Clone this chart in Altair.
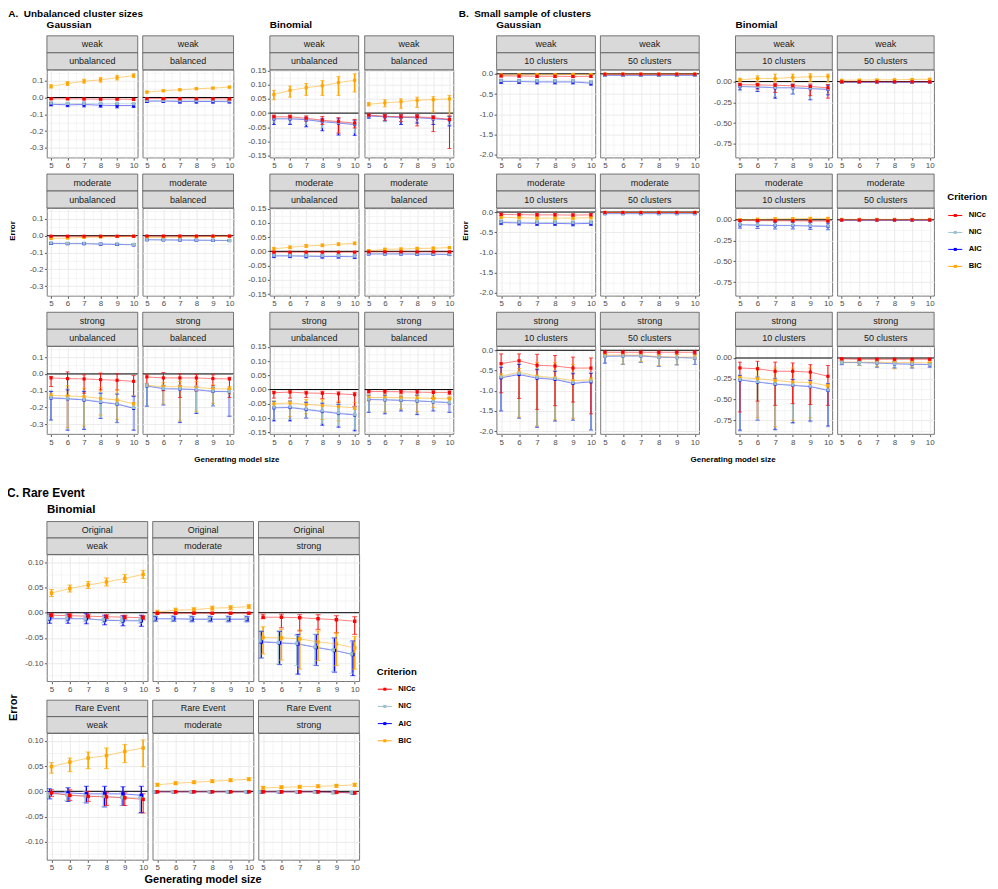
import altair as alt
import numpy as np
import pandas as pd

FONT = "Liberation Sans"
SIZES = [5, 6, 7, 8, 9, 10]
CRITERIA = ["NICc", "NIC", "AIC", "BIC"]
COLORS = ["#FF0000", "#9AC0CD", "#0000FF", "#FFA500"]
DRAW_ORDER = ["AIC", "BIC", "NIC", "NICc"]

# ---------------- Panel A: Gaussian (mean, lo, hi) or (mean, half-width) ----------------
A_G_weak_unb = {
    "NICc": ([-0.008, -0.008, -0.009, -0.010, -0.010, -0.011], 0.005),
    "NIC": ([-0.033, -0.036, -0.036, -0.035, -0.036, -0.038], 0.008),
    "AIC": ([-0.040, -0.044, -0.042, -0.046, -0.048, -0.048], [-0.050, -0.055, -0.056, -0.058, -0.062, -0.060], [-0.030, -0.033, -0.028, -0.034, -0.034, -0.036]),
    "BIC": ([0.066, 0.083, 0.097, 0.105, 0.118, 0.130], [0.056, 0.071, 0.085, 0.091, 0.104, 0.119], [0.076, 0.095, 0.109, 0.119, 0.132, 0.141]),
}
A_G_weak_bal = {
    "NICc": ([-0.007, -0.007, -0.008, -0.008, -0.008, -0.009], 0.004),
    "NIC": ([-0.018, -0.018, -0.019, -0.019, -0.019, -0.020], 0.006),
    "AIC": ([-0.022, -0.021, -0.024, -0.024, -0.024, -0.025], [-0.030, -0.030, -0.034, -0.034, -0.034, -0.033], [-0.014, -0.012, -0.014, -0.014, -0.014, -0.017]),
    "BIC": ([0.032, 0.040, 0.046, 0.052, 0.056, 0.062], 0.005),
}
A_G_mod_unb = {
    "NICc": ([-0.003, -0.003, -0.003, -0.003, -0.003, -0.003], 0.003),
    "NIC": ([-0.044, -0.045, -0.045, -0.048, -0.050, -0.052], 0.005),
    "AIC": ([-0.046, -0.047, -0.047, -0.050, -0.052, -0.054], 0.006),
    "BIC": ([-0.016, -0.014, -0.010, -0.008, -0.005, -0.003], 0.004),
}
A_G_mod_bal = {
    "NICc": ([-0.002, -0.002, -0.002, -0.002, -0.002, -0.002], 0.003),
    "NIC": ([-0.023, -0.024, -0.025, -0.026, -0.027, -0.028], 0.004),
    "AIC": ([-0.024, -0.025, -0.026, -0.027, -0.028, -0.029], 0.004),
    "BIC": ([-0.012, -0.010, -0.008, -0.007, -0.005, -0.004], 0.003),
}
A_G_str_unb = {
    "NICc": ([-0.024, -0.028, -0.030, -0.034, -0.038, -0.044], [-0.075, -0.130, -0.115, -0.095, -0.095, -0.130], [-0.015, 0.012, -0.005, 0.005, 0.000, -0.010]),
    "NIC": ([-0.140, -0.145, -0.152, -0.165, -0.178, -0.200], [-0.278, -0.330, -0.325, -0.262, -0.288, -0.330], [-0.098, -0.088, -0.100, -0.110, -0.115, -0.130]),
    "AIC": ([-0.143, -0.148, -0.155, -0.168, -0.180, -0.205], [-0.275, -0.335, -0.330, -0.265, -0.290, -0.335], [-0.105, -0.095, -0.105, -0.115, -0.120, -0.135]),
    "BIC": ([-0.128, -0.132, -0.135, -0.146, -0.155, -0.178], [-0.140, -0.320, -0.310, -0.245, -0.270, -0.200], [-0.115, -0.070, -0.085, -0.080, -0.095, -0.170]),
}
A_G_str_bal = {
    "NICc": ([-0.018, -0.024, -0.024, -0.024, -0.028, -0.030], [-0.070, -0.100, -0.140, -0.100, -0.070, -0.140], [-0.005, 0.008, 0.000, -0.004, -0.005, -0.020]),
    "NIC": ([-0.070, -0.086, -0.088, -0.092, -0.102, -0.104], [-0.190, -0.180, -0.285, -0.230, -0.188, -0.250], [-0.058, -0.065, -0.065, -0.070, -0.075, -0.085]),
    "AIC": ([-0.072, -0.088, -0.090, -0.094, -0.104, -0.106], [-0.192, -0.185, -0.290, -0.235, -0.190, -0.252], [-0.060, -0.070, -0.070, -0.075, -0.080, -0.090]),
    "BIC": ([-0.068, -0.076, -0.076, -0.080, -0.088, -0.090], [-0.075, -0.180, -0.280, -0.222, -0.175, -0.120], [-0.060, -0.050, -0.045, -0.045, -0.065, -0.075]),
}

# ---------------- Panel A: Binomial ----------------
A_B_weak_unb = {
    "NICc": ([-0.013, -0.013, -0.018, -0.025, -0.030, -0.035], [-0.020, -0.020, -0.028, -0.040, -0.070, -0.052], [-0.007, -0.007, -0.010, -0.012, -0.016, -0.022]),
    "NIC": ([-0.018, -0.018, -0.021, -0.028, -0.033, -0.038], [-0.032, -0.035, -0.040, -0.052, -0.070, -0.070], [-0.008, -0.008, -0.010, -0.014, -0.016, -0.024]),
    "AIC": ([-0.020, -0.020, -0.023, -0.030, -0.035, -0.040], [-0.040, -0.040, -0.048, -0.062, -0.077, -0.078], [-0.010, -0.010, -0.015, -0.020, -0.020, -0.025]),
    "BIC": ([0.065, 0.080, 0.089, 0.096, 0.107, 0.115], [0.047, 0.056, 0.062, 0.062, 0.062, 0.074], [0.080, 0.095, 0.104, 0.114, 0.128, 0.138]),
}
A_B_weak_bal = {
    "NICc": ([-0.007, -0.011, -0.013, -0.013, -0.016, -0.022], [-0.012, -0.025, -0.030, -0.045, -0.065, -0.124], [-0.003, -0.005, -0.005, -0.005, -0.010, -0.010]),
    "NIC": ([-0.009, -0.012, -0.014, -0.015, -0.019, -0.022], [-0.016, -0.030, -0.030, -0.030, -0.035, -0.040], [-0.004, -0.005, -0.006, -0.006, -0.008, -0.010]),
    "AIC": ([-0.010, -0.013, -0.015, -0.016, -0.020, -0.023], [-0.018, -0.028, -0.040, -0.035, -0.040, -0.045], [-0.005, -0.006, -0.007, -0.008, -0.010, -0.012]),
    "BIC": ([0.031, 0.036, 0.040, 0.045, 0.047, 0.050], [0.025, 0.022, 0.017, 0.020, 0.004, -0.025], [0.037, 0.047, 0.050, 0.056, 0.058, 0.062]),
}
A_B_mod_unb = {
    "NICc": ([-0.003, -0.003, -0.003, -0.003, -0.003, -0.003], 0.002),
    "NIC": ([-0.014, -0.014, -0.015, -0.016, -0.016, -0.017], 0.005),
    "AIC": ([-0.016, -0.016, -0.017, -0.018, -0.018, -0.019], 0.006),
    "BIC": ([0.009, 0.014, 0.019, 0.021, 0.025, 0.028], 0.005),
}
A_B_mod_bal = {
    "NICc": ([-0.002, -0.002, -0.002, -0.002, -0.002, -0.002], 0.002),
    "NIC": ([-0.008, -0.008, -0.008, -0.009, -0.009, -0.010], 0.003),
    "AIC": ([-0.009, -0.009, -0.009, -0.010, -0.010, -0.011], 0.003),
    "BIC": ([0.002, 0.007, 0.008, 0.010, 0.011, 0.013], 0.004),
}
A_B_str_unb = {
    "NICc": ([-0.011, -0.009, -0.012, -0.013, -0.015, -0.018], [-0.030, -0.030, -0.028, -0.032, -0.045, -0.060], [-0.006, -0.004, -0.006, -0.006, -0.008, -0.010]),
    "NIC": ([-0.062, -0.061, -0.068, -0.075, -0.082, -0.087], [-0.105, -0.105, -0.098, -0.120, -0.128, -0.140], [-0.040, -0.038, -0.042, -0.045, -0.050, -0.058]),
    "AIC": ([-0.064, -0.063, -0.070, -0.077, -0.084, -0.089], [-0.110, -0.110, -0.100, -0.125, -0.132, -0.145], [-0.042, -0.040, -0.045, -0.048, -0.052, -0.060]),
    "BIC": ([-0.050, -0.047, -0.052, -0.056, -0.060, -0.064], [-0.060, -0.095, -0.085, -0.105, -0.110, -0.070], [-0.040, -0.040, -0.035, -0.035, -0.040, -0.045]),
}
A_B_str_bal = {
    "NICc": ([-0.007, -0.007, -0.008, -0.009, -0.010, -0.010], [-0.012, -0.015, -0.015, -0.020, -0.030, -0.018], [-0.003, -0.002, -0.003, -0.003, -0.004, -0.005]),
    "NIC": ([-0.034, -0.035, -0.037, -0.039, -0.042, -0.045], [-0.078, -0.082, -0.072, -0.085, -0.072, -0.078], [-0.018, -0.018, -0.022, -0.018, -0.028, -0.028]),
    "AIC": ([-0.035, -0.036, -0.038, -0.040, -0.043, -0.046], [-0.080, -0.085, -0.075, -0.088, -0.075, -0.080], [-0.020, -0.020, -0.025, -0.020, -0.030, -0.030]),
    "BIC": ([-0.028, -0.028, -0.029, -0.030, -0.031, -0.033], [-0.040, -0.078, -0.068, -0.078, -0.063, -0.050], [-0.020, -0.018, -0.020, -0.022, -0.022, -0.025]),
}

# ---------------- Panel B: Gaussian ----------------
B_G_weak_10 = {
    "NICc": ([-0.050, -0.055, -0.060, -0.060, -0.065, -0.060], 0.03),
    "NIC": ([-0.170, -0.175, -0.180, -0.180, -0.180, -0.210], 0.04),
    "AIC": ([-0.190, -0.190, -0.200, -0.200, -0.200, -0.230], 0.05),
    "BIC": ([-0.030, -0.025, -0.020, -0.020, -0.015, -0.020], 0.02),
}
B_G_weak_50 = {
    "NICc": ([-0.010, -0.010, -0.010, -0.010, -0.010, -0.010], 0.005),
    "NIC": ([-0.035, -0.035, -0.035, -0.035, -0.035, -0.035], 0.01),
    "AIC": ([-0.040, -0.040, -0.040, -0.040, -0.040, -0.040], 0.01),
    "BIC": ([-0.005, -0.005, -0.005, -0.005, -0.005, -0.005], 0.005),
}
B_G_mod_10 = {
    "NICc": ([-0.060, -0.065, -0.070, -0.070, -0.075, -0.070], 0.03),
    "NIC": ([-0.240, -0.250, -0.260, -0.260, -0.265, -0.260], 0.05),
    "AIC": ([-0.260, -0.270, -0.280, -0.280, -0.290, -0.280], 0.05),
    "BIC": ([-0.130, -0.140, -0.150, -0.150, -0.150, -0.140], 0.03),
}
B_G_mod_50 = {
    "NICc": ([-0.010, -0.010, -0.010, -0.010, -0.010, -0.010], 0.005),
    "NIC": ([-0.035, -0.035, -0.035, -0.035, -0.035, -0.035], 0.01),
    "AIC": ([-0.040, -0.040, -0.040, -0.040, -0.040, -0.040], 0.01),
    "BIC": ([-0.010, -0.010, -0.010, -0.010, -0.010, -0.010], 0.005),
}
B_G_str_10 = {
    "NICc": ([-0.33, -0.26, -0.37, -0.39, -0.44, -0.44], [-1.05, -1.19, -1.46, -1.37, -1.28, -1.57], [-0.09, -0.09, -0.10, -0.13, -0.17, -0.19]),
    "NIC": ([-0.66, -0.57, -0.67, -0.70, -0.80, -0.76], [-1.48, -1.68, -1.88, -1.76, -1.73, -1.97], [-0.40, -0.32, -0.45, -0.50, -0.55, -0.55]),
    "AIC": ([-0.68, -0.60, -0.69, -0.72, -0.82, -0.78], [-1.50, -1.68, -1.90, -1.75, -1.73, -1.97], [-0.42, -0.35, -0.48, -0.52, -0.58, -0.57]),
    "BIC": ([-0.64, -0.54, -0.64, -0.68, -0.75, -0.73], [-0.70, -1.65, -1.87, -1.72, -1.68, -0.80], [-0.58, -0.45, -0.30, -0.30, -0.35, -0.68]),
}
B_G_str_50 = {
    "NICc": ([-0.05, -0.05, -0.05, -0.05, -0.05, -0.05], [-0.10, -0.10, -0.10, -0.10, -0.10, -0.10], [-0.02, -0.02, -0.02, -0.02, -0.02, -0.02]),
    "NIC": ([-0.15, -0.14, -0.14, -0.17, -0.18, -0.19], [-0.32, -0.35, -0.30, -0.40, -0.36, -0.35], [-0.05, -0.05, -0.05, -0.06, -0.06, -0.07]),
    "AIC": ([-0.15, -0.14, -0.14, -0.17, -0.18, -0.19], [-0.32, -0.35, -0.30, -0.40, -0.36, -0.35], [-0.05, -0.05, -0.05, -0.06, -0.06, -0.07]),
    "BIC": ([-0.12, -0.12, -0.12, -0.16, -0.17, -0.17], [-0.15, -0.34, -0.28, -0.38, -0.35, -0.22], [-0.08, -0.07, -0.07, -0.10, -0.10, -0.12]),
}

# ---------------- Panel B: Binomial ----------------
B_B_weak_10 = {
    "NICc": ([-0.037, -0.040, -0.045, -0.050, -0.060, -0.075], [-0.050, -0.090, -0.130, -0.070, -0.170, -0.200], [-0.020, -0.020, -0.020, -0.030, -0.030, -0.035]),
    "NIC": ([-0.055, -0.060, -0.070, -0.070, -0.080, -0.090], [-0.110, -0.110, -0.180, -0.150, -0.210, -0.150], [-0.025, -0.030, -0.030, -0.030, -0.040, -0.040]),
    "AIC": ([-0.060, -0.065, -0.075, -0.075, -0.085, -0.095], [-0.100, -0.120, -0.200, -0.150, -0.220, -0.160], [-0.030, -0.035, -0.035, -0.035, -0.045, -0.045]),
    "BIC": ([0.020, 0.037, 0.037, 0.050, 0.057, 0.060], [0.000, 0.000, 0.000, 0.000, 0.000, -0.005], [0.040, 0.070, 0.090, 0.090, 0.095, 0.090]),
}
B_B_weak_50 = {
    "NICc": ([-0.003, -0.003, -0.003, -0.003, -0.003, -0.003], 0.003),
    "NIC": ([-0.008, -0.008, -0.008, -0.008, -0.008, -0.008], 0.005),
    "AIC": ([-0.010, -0.010, -0.010, -0.010, -0.010, -0.010], 0.005),
    "BIC": ([0.015, 0.018, 0.020, 0.022, 0.025, 0.028], 0.005),
}
B_B_mod_10 = {
    "NICc": ([-0.010, -0.010, -0.012, -0.012, -0.014, -0.015], 0.01),
    "NIC": ([-0.055, -0.060, -0.065, -0.065, -0.070, -0.075], 0.04),
    "AIC": ([-0.060, -0.065, -0.070, -0.070, -0.075, -0.080], 0.04),
    "BIC": ([0.000, 0.005, 0.010, 0.012, 0.015, 0.015], 0.015),
}
B_B_mod_50 = {
    "NICc": ([-0.002, -0.002, -0.002, -0.002, -0.002, -0.002], 0.002),
    "NIC": ([-0.004, -0.004, -0.004, -0.004, -0.004, -0.004], 0.003),
    "AIC": ([-0.005, -0.005, -0.005, -0.005, -0.005, -0.005], 0.003),
    "BIC": ([0.005, 0.005, 0.005, 0.005, 0.005, 0.005], 0.003),
}
B_B_str_10 = {
    "NICc": ([-0.12, -0.13, -0.16, -0.16, -0.17, -0.22], [-0.65, -0.52, -0.57, -0.55, -0.56, -0.57], [-0.05, -0.04, -0.05, -0.06, -0.08, -0.09]),
    "NIC": ([-0.26, -0.285, -0.31, -0.325, -0.34, -0.385], [-0.88, -0.75, -0.87, -0.79, -0.77, -0.83], [-0.20, -0.22, -0.24, -0.25, -0.26, -0.30]),
    "AIC": ([-0.265, -0.29, -0.315, -0.33, -0.345, -0.39], [-0.87, -0.75, -0.86, -0.78, -0.76, -0.82], [-0.21, -0.23, -0.25, -0.26, -0.27, -0.31]),
    "BIC": ([-0.235, -0.25, -0.27, -0.29, -0.295, -0.335], [-0.25, -0.72, -0.83, -0.75, -0.72, -0.35], [-0.22, -0.11, -0.12, -0.12, -0.12, -0.32]),
}
B_B_str_50 = {
    "NICc": ([-0.010, -0.015, -0.015, -0.015, -0.015, -0.015], 0.01),
    "NIC": ([-0.055, -0.055, -0.060, -0.068, -0.072, -0.078], [-0.08, -0.09, -0.11, -0.12, -0.12, -0.11], [-0.035, -0.035, -0.04, -0.045, -0.05, -0.055]),
    "AIC": ([-0.055, -0.055, -0.060, -0.070, -0.075, -0.080], [-0.08, -0.09, -0.11, -0.12, -0.12, -0.11], [-0.035, -0.035, -0.04, -0.045, -0.05, -0.055]),
    "BIC": ([-0.050, -0.050, -0.050, -0.055, -0.055, -0.060], [-0.06, -0.09, -0.10, -0.13, -0.11, -0.07], [-0.04, -0.035, -0.035, -0.04, -0.04, -0.05]),
}

# ---------------- Panel C: Rare event, Binomial ----------------
C_orig_weak = {
    "NICc": ([-0.005, -0.006, -0.007, -0.008, -0.009, -0.010], 0.004),
    "NIC": ([-0.011, -0.011, -0.012, -0.014, -0.015, -0.015], 0.006),
    "AIC": ([-0.012, -0.012, -0.012, -0.015, -0.016, -0.016], [-0.021, -0.021, -0.022, -0.024, -0.026, -0.027], [-0.003, -0.003, -0.002, -0.005, -0.006, -0.005]),
    "BIC": ([0.039, 0.048, 0.055, 0.061, 0.068, 0.076], [0.032, 0.041, 0.048, 0.053, 0.060, 0.068], [0.046, 0.055, 0.062, 0.069, 0.076, 0.084]),
}
C_orig_mod = {
    "NICc": ([-0.001, -0.001, -0.001, -0.001, -0.001, -0.001], 0.001),
    "NIC": ([-0.012, -0.012, -0.012, -0.012, -0.012, -0.012], 0.006),
    "AIC": ([-0.012, -0.012, -0.013, -0.013, -0.013, -0.013], 0.005),
    "BIC": ([0.001, 0.005, 0.006, 0.009, 0.010, 0.012], 0.004),
}
C_orig_str = {
    "NICc": ([-0.009, -0.009, -0.010, -0.012, -0.014, -0.017], [-0.012, -0.030, -0.036, -0.033, -0.040, -0.043], [-0.003, -0.003, -0.004, -0.004, -0.006, -0.008]),
    "NIC": ([-0.056, -0.059, -0.061, -0.068, -0.074, -0.082], [-0.090, -0.102, -0.105, -0.104, -0.117, -0.120], [-0.036, -0.036, -0.045, -0.043, -0.050, -0.058]),
    "AIC": ([-0.058, -0.060, -0.062, -0.069, -0.075, -0.083], [-0.090, -0.103, -0.122, -0.105, -0.118, -0.125], [-0.037, -0.037, -0.043, -0.043, -0.050, -0.056]),
    "BIC": ([-0.049, -0.050, -0.052, -0.058, -0.062, -0.070], [-0.082, -0.094, -0.112, -0.095, -0.105, -0.112], [-0.028, -0.033, -0.034, -0.036, -0.040, -0.047]),
}
C_rare_weak = {
    "NICc": ([-0.003, -0.008, -0.010, -0.011, -0.013, -0.016], [-0.010, -0.018, -0.020, -0.028, -0.028, -0.043], [0.003, 0.003, 0.000, -0.002, -0.003, -0.005]),
    "NIC": ([-0.005, -0.007, -0.009, -0.010, -0.012, -0.013], [-0.013, -0.018, -0.022, -0.030, -0.028, -0.044], [0.000, 0.000, 0.000, -0.002, -0.002, -0.006]),
    "AIC": ([-0.003, -0.003, -0.005, -0.005, -0.005, -0.008], [-0.015, -0.020, -0.023, -0.031, -0.028, -0.042], [0.005, 0.007, 0.010, 0.010, 0.009, 0.010]),
    "BIC": ([0.049, 0.058, 0.066, 0.071, 0.079, 0.086], [0.036, 0.039, 0.045, 0.045, 0.057, 0.049], [0.057, 0.066, 0.078, 0.086, 0.093, 0.102]),
}
C_rare_mod = {
    "NICc": ([-0.001, -0.001, -0.001, -0.001, -0.001, -0.001], 0.001),
    "NIC": ([-0.001, -0.001, -0.001, -0.001, -0.001, -0.001], 0.0015),
    "AIC": ([-0.001, -0.001, -0.001, -0.001, -0.001, -0.001], 0.0015),
    "BIC": ([0.013, 0.016, 0.018, 0.020, 0.022, 0.024], 0.003),
}
C_rare_str = {
    "NICc": ([-0.001, -0.001, -0.001, -0.001, -0.002, -0.003], 0.002),
    "NIC": ([-0.001, -0.001, -0.001, -0.002, -0.003, -0.003], 0.002),
    "AIC": ([-0.001, -0.001, -0.001, -0.001, -0.002, -0.003], 0.002),
    "BIC": ([0.007, 0.008, 0.009, 0.010, 0.011, 0.013], 0.003),
}


# ---------------- helpers ----------------
def make_df(panel, dodge):
    rows = []
    for c in DRAW_ORDER:
        spec = panel[c]
        mean = spec[0]
        if len(spec) == 2:
            err = spec[1] if isinstance(spec[1], list) else [spec[1]] * len(mean)
            lo = [round(m - e, 6) for m, e in zip(mean, err)]
            hi = [round(m + e, 6) for m, e in zip(mean, err)]
        else:
            lo, hi = spec[1], spec[2]
        for i, s in enumerate(SIZES):
            rows.append(dict(crit=c, size=s + dodge.get(c, 0.0), mean=mean[i], lo=lo[i], hi=hi[i]))
    return pd.DataFrame(rows)


def minor_test(step):
    return f"abs(datum.value / {step} - round(datum.value / {step})) > 0.01"


def y_axis(cfg):
    major = cfg["major"]
    minor = major / 2
    lo, hi = cfg["dom"]
    k0 = int(np.ceil(lo / minor - 1e-9))
    k1 = int(np.floor(hi / minor + 1e-9))
    vals = [round(k * minor, 6) for k in range(k0, k1 + 1)]
    test = minor_test(major)
    return alt.Axis(
        values=vals, title=None, domain=False,
        labelExpr=f"{test} ? '' : replace(format(datum.value, '{cfg['fmt']}'), '\u2212', '-')",
        labelFontSize=cfg["tfs"], labelColor="#4D4D4D", labelPadding=1.5, labelOverlap=False,
        tickColor="#333333", tickSize=2.5, tickWidth=0.8,
        tickOpacity={"condition": {"test": test, "value": 0}, "value": 1},
        grid=True, gridColor="#EBEBEB",
        gridWidth={"condition": {"test": test, "value": 0.5}, "value": 1.0},
    )


def x_axis(cfg):
    test = minor_test(1)
    return alt.Axis(
        values=[5, 5.5, 6, 6.5, 7, 7.5, 8, 8.5, 9, 9.5, 10], title=None, domain=False,
        labelExpr=f"{test} ? '' : format(datum.value, 'd')",
        labelFontSize=cfg["tfs"], labelColor="#4D4D4D", labelPadding=1.5,
        labelOverlap=False, labelFlush=False,
        tickColor="#333333", tickSize=2.5, tickWidth=0.8,
        tickOpacity={"condition": {"test": test, "value": 0}, "value": 1},
        grid=True, gridColor="#EBEBEB",
        gridWidth={"condition": {"test": test, "value": 0.5}, "value": 1.0},
    )


HIDDEN_HEADER = alt.Header(labels=False, title=None, labelExpr="''", labelPadding=0, labelFontSize=1,
                           titlePadding=0)


def group_chart(panels, cfg, notes, dodge=None):
    dodge = dodge or {}
    frames = []
    for idx, (pdata, s1, s2) in enumerate(panels):
        df = make_df(pdata, dodge)
        df["panel"] = idx
        df["s1"] = s1
        df["s2"] = s2
        df["first"] = [i == 0 for i in range(len(df))]
        frames.append(df)
    data = pd.concat(frames, ignore_index=True)

    W, H, SH = cfg["W"], cfg["H"], cfg["SH"]
    ysc = alt.Scale(domain=cfg["dom"], nice=False, zero=False)
    xsc = alt.Scale(domain=[4.75, 10.25], nice=False, zero=False)
    yax = y_axis(cfg)
    X = alt.X("size:Q", scale=xsc, axis=x_axis(cfg))
    col = alt.Color("crit:N", scale=alt.Scale(domain=CRITERIA, range=COLORS), legend=None)
    sw = alt.StrokeWidth("crit:N", scale=alt.Scale(domain=CRITERIA, range=[1.0, cfg["nicw"], 1.0, 1.0]),
                         legend=None)
    first = alt.Chart().transform_filter("datum.first")

    layers = [
        first.mark_rule(color="black", strokeWidth=1).encode(y=alt.YDatum(0, scale=ysc, axis=yax)),
        alt.Chart().mark_line(opacity=0.5, strokeWidth=1).encode(
            x=X, y=alt.Y("mean:Q", scale=ysc, axis=yax), color=col),
        alt.Chart().mark_rule().encode(
            x=X, y=alt.Y("lo:Q", scale=ysc, axis=yax), y2="hi:Q", color=col, strokeWidth=sw),
        alt.Chart().mark_tick(orient="horizontal", size=cfg["cap"], thickness=1).encode(
            x=X, y=alt.Y("lo:Q", scale=ysc, axis=yax), color=col),
        alt.Chart().mark_tick(orient="horizontal", size=cfg["cap"], thickness=1).encode(
            x=X, y=alt.Y("hi:Q", scale=ysc, axis=yax), color=col),
        alt.Chart().mark_point(shape="square", filled=True, opacity=1, size=cfg["pt"]).encode(
            x=X, y=alt.Y("mean:Q", scale=ysc, axis=yax), color=col),
        # strip headers (two stacked boxes above each panel)
        first.mark_rect(fill="#D9D9D9", stroke="#555555", strokeWidth=0.8).encode(
            x=alt.value(0), x2=alt.value(W), y=alt.value(-SH), y2=alt.value(-SH / 2)),
        first.mark_rect(fill="#D9D9D9", stroke="#555555", strokeWidth=0.8).encode(
            x=alt.value(0), x2=alt.value(W), y=alt.value(-SH / 2), y2=alt.value(0)),
        first.mark_text(fontSize=cfg["sfs"], color="#1A1A1A").encode(
            x=alt.value(W / 2), y=alt.value(-SH * 0.75), text="s1:N"),
        first.mark_text(fontSize=cfg["sfs"], color="#1A1A1A").encode(
            x=alt.value(W / 2), y=alt.value(-SH * 0.25), text="s2:N"),
    ]
    for n in notes:
        layers.append(
            alt.Chart().transform_filter(f"datum.first && datum.panel == {n['panel']}").mark_text(
                text=n["text"], fontSize=n["fs"], fontWeight="bold", color="black",
                align=n.get("align", "left"), angle=n.get("angle", 0), baseline="middle",
            ).encode(x=alt.value(n["x"]), y=alt.value(n["y"]))
        )
    return alt.layer(*layers, data=data).properties(width=W, height=H).facet(
        facet=alt.Facet("panel:O", header=HIDDEN_HEADER),
        columns=cfg["ncol"],
        spacing={"row": cfg["gy"], "column": cfg["gx"]},
        bounds="flush",
    ).resolve_axis(x="independent")


def legend_chart(title_y, item_y0, item_y1, H, title_fs, item_fs, pt):
    ldf = pd.DataFrame({"crit": CRITERIA, "pos": list(range(len(CRITERIA)))})
    ysc = alt.Scale(domain=[0, len(CRITERIA) - 1], range=[item_y0, item_y1], nice=False, zero=False)
    y = alt.Y("pos:Q", scale=ysc, axis=None)
    col = alt.Color("crit:N", scale=alt.Scale(domain=CRITERIA, range=COLORS), legend=None)
    base = alt.Chart(ldf)
    ln = base.mark_rule(strokeWidth=1).encode(y=y, x=alt.value(1), x2=alt.value(15), color=col)
    pp = base.mark_point(shape="square", filled=True, opacity=1, size=pt).encode(
        y=y, x=alt.value(8), color=col)
    tx = base.mark_text(align="left", fontSize=item_fs, color="black", fontWeight="bold").encode(
        y=y, x=alt.value(21.5), text="crit:N")
    ttl = alt.Chart(pd.DataFrame({"t": ["Criterion"]})).mark_text(
        align="left", fontSize=title_fs, fontWeight="bold", color="black").encode(
        x=alt.value(0), y=alt.value(title_y), text="t:N")
    return alt.layer(ln, pp, tx, ttl).properties(width=42, height=H, view=alt.ViewBackground(stroke=None))


def bottom_title(ch, text, fs, offset, dx):
    return alt.vconcat(ch, title=alt.TitleParams(
        text, orient="bottom", anchor="middle", frame="group", fontSize=fs, fontWeight="bold",
        color="black", offset=offset, dx=dx))


# ---------------- configuration ----------------
BASE_AB = dict(H=88, SH=34, gy=50.5, ncol=2, tfs=8, sfs=9, cap=4, pt=10, nicw=1.6)
CFG_AG = dict(BASE_AB, W=91, gx=5, dom=[-0.358, 0.165], major=0.1, fmt=".1f")
CFG_AB = dict(BASE_AB, W=89, gx=6, dom=[-0.156, 0.152], major=0.05, fmt=".2f")
CFG_BG = dict(BASE_AB, W=99, gx=5, dom=[-2.07, 0.10], major=0.5, fmt=".1f")
CFG_BB = dict(BASE_AB, W=97, gx=5, dom=[-0.916, 0.142], major=0.25, fmt=".2f")
CFG_C = dict(H=127, SH=33, gy=52, ncol=3, tfs=8, sfs=9, cap=5, pt=12, nicw=2.2,
             W=101, gx=5, dom=[-0.136, 0.1155], major=0.05, fmt=".2f")

AG = group_chart([
    (A_G_weak_unb, "weak", "unbalanced"), (A_G_weak_bal, "weak", "balanced"),
    (A_G_mod_unb, "moderate", "unbalanced"), (A_G_mod_bal, "moderate", "balanced"),
    (A_G_str_unb, "strong", "unbalanced"), (A_G_str_bal, "strong", "balanced"),
], CFG_AG, [
    dict(panel=0, text="A.\u00a0 Unbalanced cluster sizes", x=-38.7, y=-56, fs=10),
    dict(panel=0, text="Gaussian", x=-0.3, y=-44.5, fs=10),
    dict(panel=2, text="Error", x=-34, y=23, fs=8, align="center", angle=270),
])
AB = group_chart([
    (A_B_weak_unb, "weak", "unbalanced"), (A_B_weak_bal, "weak", "balanced"),
    (A_B_mod_unb, "moderate", "unbalanced"), (A_B_mod_bal, "moderate", "balanced"),
    (A_B_str_unb, "strong", "unbalanced"), (A_B_str_bal, "strong", "balanced"),
], CFG_AB, [
    dict(panel=0, text="Binomial", x=0, y=-44.5, fs=10),
])
BG = group_chart([
    (B_G_weak_10, "weak", "10 clusters"), (B_G_weak_50, "weak", "50 clusters"),
    (B_G_mod_10, "moderate", "10 clusters"), (B_G_mod_50, "moderate", "50 clusters"),
    (B_G_str_10, "strong", "10 clusters"), (B_G_str_50, "strong", "50 clusters"),
], CFG_BG, [
    dict(panel=0, text="B.\u00a0 Small sample of clusters", x=-38, y=-56, fs=10),
    dict(panel=0, text="Gaussian", x=-0.3, y=-44.5, fs=10),
    dict(panel=2, text="Error", x=-31, y=23, fs=8, align="center", angle=270),
])
BB = group_chart([
    (B_B_weak_10, "weak", "10 clusters"), (B_B_weak_50, "weak", "50 clusters"),
    (B_B_mod_10, "moderate", "10 clusters"), (B_B_mod_50, "moderate", "50 clusters"),
    (B_B_str_10, "strong", "10 clusters"), (B_B_str_50, "strong", "50 clusters"),
], CFG_BB, [
    dict(panel=0, text="Binomial", x=0, y=-44.5, fs=10),
])
CC = group_chart([
    (C_orig_weak, "Original", "weak"), (C_orig_mod, "Original", "moderate"), (C_orig_str, "Original", "strong"),
    (C_rare_weak, "Rare Event", "weak"), (C_rare_mod, "Rare Event", "moderate"), (C_rare_str, "Rare Event", "strong"),
], CFG_C, [
    dict(panel=0, text="C. Rare Event", x=-40, y=-62, fs=12),
    dict(panel=0, text="Binomial", x=0, y=-44.7, fs=11.5),
    dict(panel=3, text="Error", x=-33.3, y=-25.5, fs=11, align="center", angle=270),
    dict(panel=4, text="Generating model size", x=50.5, y=147, fs=11, align="center"),
], dodge={"NIC": -0.17, "AIC": -0.1})

leg_B = legend_chart(127, 146, 197, 200, 9.6, 7.6, 9)
leg_C = legend_chart(118, 135, 186.7, 190, 9.6, 7.6, 9)

A_wrap = bottom_title(alt.hconcat(AG, AB, spacing=12.4), "Generating model size", 8, 10, 190.3)
B_wrap = bottom_title(alt.hconcat(alt.hconcat(BG, BB, spacing=12.4), leg_B, spacing=11.6),
                      "Generating model size", 8, 10, 237)
row_ab = alt.hconcat(A_wrap, B_wrap, spacing=2.6)
row_c = alt.hconcat(CC, leg_C, spacing=16.6)

chart = alt.vconcat(row_ab, row_c, spacing=19.7).properties(
    padding={"left": -2, "top": -2, "right": 0, "bottom": 2}
).configure(font=FONT).configure_view(stroke="#555555", strokeWidth=0.8).configure_header(
    labels=False, title=None, labelPadding=0, titlePadding=0)

chart.save("out.html", embed_options={"renderer": "svg", "actions": False})
